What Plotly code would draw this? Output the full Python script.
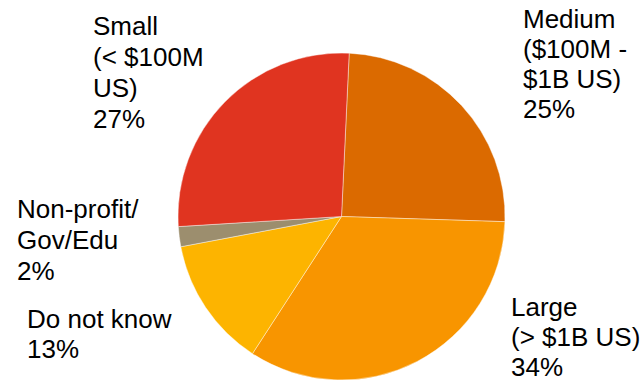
import plotly.graph_objects as go

# Data (clockwise from top)
categories = ["Medium", "Large", "Do not know", "Non-profit", "Small"]
label_lines = [
    ["Medium", "($100M -", "$1B US)"],
    ["Large", "(&gt; $1B US)"],
    ["Do not know"],
    ["Non-profit/", "Gov/Edu"],
    ["Small", "(&lt; $100M", "US)"],
]
values = [25, 34, 13, 2, 27]
colors = ["#DB6A00", "#F89500", "#FDB400", "#9C8E6E", "#E03420"]

W, H = 641, 381
cx, cy, r = 341.5, 216.5, 163.5

fig = go.Figure(go.Pie(
    labels=categories,
    values=values,
    sort=False,
    direction="clockwise",
    rotation=2.7,
    textinfo="none",
    hoverinfo="label+percent",
    marker=dict(colors=colors, line=dict(color="rgba(255,255,255,0.6)", width=0.7)),
    domain=dict(x=[(cx - r) / W, (cx + r) / W], y=[1 - (cy + r) / H, 1 - (cy - r) / H]),
    showlegend=False,
))

# label placement (pixels): left x, first baseline, line spacing
placement = [
    (522, 28, 30),
    (510, 316, 30),
    (26, 328, 30),
    (16, 218, 31),
    (92, 35, 31),
]

fs = 26
for lines, v, (lx, by, sp) in zip(label_lines, values, placement):
    all_lines = lines + [f"{v}%"]
    for i, t in enumerate(all_lines):
        base = by + i * sp
        ymid = base - 0.35 * fs
        fig.add_annotation(
            x=lx / W, y=1 - ymid / H, xref="paper", yref="paper",
            text=t, showarrow=False, xanchor="left", yanchor="middle",
            borderpad=0,
            font=dict(family="Liberation Sans, Arial, sans-serif", size=fs, color="#000000"),
        )

fig.update_layout(
    width=W, height=H,
    margin=dict(l=0, r=0, t=0, b=0),
    paper_bgcolor="white", plot_bgcolor="white",
)

fig.write_html("out.html")
